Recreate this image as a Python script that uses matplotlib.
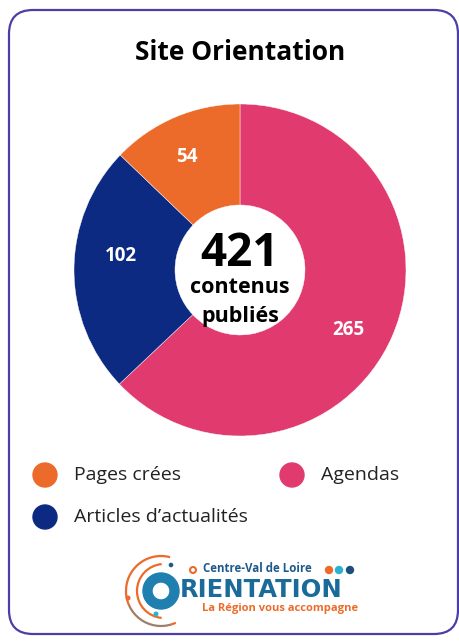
import matplotlib.pyplot as plt
from matplotlib.patches import FancyBboxPatch, Circle, Arc, Wedge

# data
labels = ["Agendas", "Articles d\u2019actualités", "Pages crées"]
values = [265, 102, 54]
colors = ["#e03a6e", "#0c2a82", "#ec6b2b"]
total = sum(values)
title = "Site Orientation"

legend_labels = ["Pages crées", "Agendas", "Articles d\u2019actualités"]
legend_colors = ["#ec6b2b", "#e03a6e", "#0c2a82"]

FONT = ["Open Sans", "DejaVu Sans"]
H = 641

fig = plt.figure(figsize=(4.6, 6.41), dpi=100)
ax = fig.add_axes([0, 0, 1, 1])

def Y(py):
    return H - py

# card border
card = FancyBboxPatch((9, Y(634)), 449, 624, boxstyle="round,pad=0,rounding_size=24",
                      fc="white", ec="#4b3fa6", lw=1.6)
ax.add_patch(card)

ax.text(240, Y(52), title, ha="center", va="center", fontsize=19,
        fontweight="bold", family=FONT, color="black")

# donut
cx, cy, r = 240, Y(270), 166
wedges, _ = ax.pie(values, colors=colors, startangle=90, counterclock=False,
                   center=(cx, cy), radius=r,
                   wedgeprops=dict(width=r - 65, edgecolor="white", linewidth=0.3))
ax.set_xlim(0, 460)
ax.set_ylim(0, H)
ax.set_aspect("equal")
ax.axis("off")

label_pos = [(348, 330), (121, 256), (187, 157)]
for v, (px, py) in zip(values, label_pos):
    ax.text(px, Y(py), str(v), ha="center", va="center", color="white",
            fontsize=13.5, fontweight="bold", family=FONT)

ax.text(240, Y(254), str(total), ha="center", va="center", fontsize=33,
        fontweight="bold", family=FONT)
ax.text(240, Y(288), "contenus", ha="center", va="center", fontsize=15.5,
        fontweight="bold", family=FONT)
ax.text(240, Y(317), "publiés", ha="center", va="center", fontsize=15.5,
        fontweight="bold", family=FONT)

# legend
leg_pos = [(45, 475), (292, 475), (45, 517)]
for lab, col, (px, py) in zip(legend_labels, legend_colors, leg_pos):
    ax.add_patch(Circle((px, Y(py)), 12, color=col))
    ax.text(px + 29, Y(py), lab, ha="left", va="center", fontsize=14,
            family=FONT, color="#222222")

# logo (approximation)
lx, ly = 161, Y(591)
ax.add_patch(Arc((lx, ly), 70, 70, theta1=75, theta2=295, color="#ec6b2b", lw=1.6))
ax.add_patch(Arc((lx + 3, ly), 54, 54, theta1=95, theta2=265, color="#ec6b2b", lw=1.6))
ax.add_patch(Arc((lx, ly), 70, 70, theta1=205, theta2=285, color="#2a9fd0", lw=0.6))
ax.add_patch(Circle((193, Y(570)), 3.0, fc="white", ec="#ec6b2b", lw=1.5))
ax.add_patch(Circle((171, Y(565)), 1.6, color="#1d5a8c"))
ax.add_patch(Circle((128, Y(598)), 1.8, color="#ec6b2b"))
ax.add_patch(Circle((156, Y(614)), 1.8, color="#2ab3d0"))
ax.add_patch(Wedge((lx, ly), 18, 0, 360, width=9, color="#1f7fae"))
ax.text(203, Y(569), "Centre-Val de Loire", ha="left", va="center", fontsize=8.3,
        fontweight="bold", family=FONT, color="#1d5a8c")
for dx, dc in zip([329, 339, 350], ["#ec6b2b", "#2ab3d0", "#1d4f80"]):
    ax.add_patch(Circle((dx, Y(570)), 3.5, color=dc))
ax.text(180, Y(597), "RIENTATION", ha="left", va="baseline", fontsize=17.5,
        fontweight="heavy", family=["DejaVu Sans"], color="#1b6b9a")
ax.text(202, Y(609), "La Région vous accompagne", ha="left", va="center",
        fontsize=8, fontweight="bold", family=FONT, color="#ec6b2b")

fig.savefig("out.png", dpi=100)
